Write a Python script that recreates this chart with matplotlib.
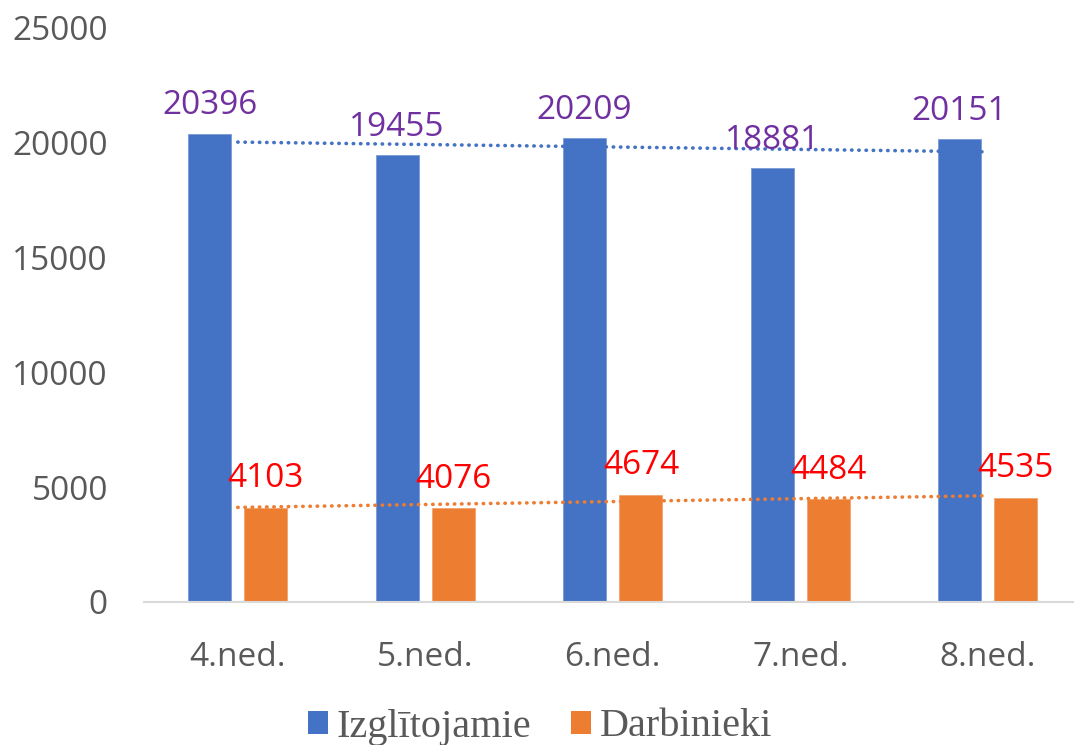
import matplotlib
matplotlib.use("Agg")
import matplotlib.pyplot as plt
import numpy as np
from matplotlib.patches import Patch

categories = ["4.ned.", "5.ned.", "6.ned.", "7.ned.", "8.ned."]
izglitojamie = [20396, 19455, 20209, 18881, 20151]
darbinieki = [4103, 4076, 4674, 4484, 4535]
series_names = ["Izglītojamie", "Darbinieki"]
yticks = [0, 5000, 10000, 15000, 20000, 25000]

blue = "#4472C4"
orange = "#ED7D31"
grey = "#595959"

fig = plt.figure(figsize=(10.74, 7.45), dpi=100)
ax = fig.add_axes([144/1074, 143/745, 937.5/1074, 574/745])

x = np.arange(len(categories))
w = 0.23
off = 0.15
ax.bar(x - off, izglitojamie, width=w, color=blue, edgecolor="#7A9BD6", linewidth=0.6)
ax.bar(x + off, darbinieki, width=w, color=orange, edgecolor="#F2A46E", linewidth=0.6)

# linear trendlines
for vals, col in ((izglitojamie, blue), (darbinieki, orange)):
    p = np.polyfit(x, vals, 1)
    ax.plot(x, np.polyval(p, x), color=col, linewidth=2.6,
            linestyle=(0, (0.1, 1.9)), dash_capstyle="round", zorder=3)

for xi, v in zip(x, izglitojamie):
    ax.annotate(str(v), (xi - off, v), xytext=(0, 28), textcoords="offset pixels",
                ha="center", va="center", color="#7030A0", fontsize=24, family="Open Sans")
for xi, v in zip(x, darbinieki):
    ax.annotate(str(v), (xi + off, v), xytext=(0, 29), textcoords="offset pixels",
                ha="center", va="center", color="#FF0000", fontsize=24, family="Open Sans")

ax.set_xlim(-0.5, len(categories) - 0.5)
ax.set_ylim(0, 25000)
ax.set_yticks(yticks)
ax.set_yticklabels([str(t) for t in yticks], fontsize=24, color=grey, family="Open Sans")
ax.set_xticks(x)
ax.set_xticklabels(categories, fontsize=24, color=grey, family="Open Sans")
ax.tick_params(axis="y", length=0, pad=26)
ax.tick_params(axis="x", length=0, pad=28)
for s in ("top", "right", "left"):
    ax.spines[s].set_visible(False)
ax.spines["bottom"].set_color("#D9D9D9")
ax.spines["bottom"].set_linewidth(1.5)

handles = [Patch(facecolor=blue), Patch(facecolor=orange)]
leg = fig.legend(handles, series_names, loc="center", bbox_to_anchor=(540/1074, 1 - 727/745),
                 ncol=2, frameon=False, prop={"family": "Liberation Serif", "size": 29},
                 handlelength=0.5, handleheight=0.5, handletextpad=0.2, columnspacing=1.0)
for t in leg.get_texts():
    t.set_color(grey)

fig.savefig("out.png", dpi=100)
